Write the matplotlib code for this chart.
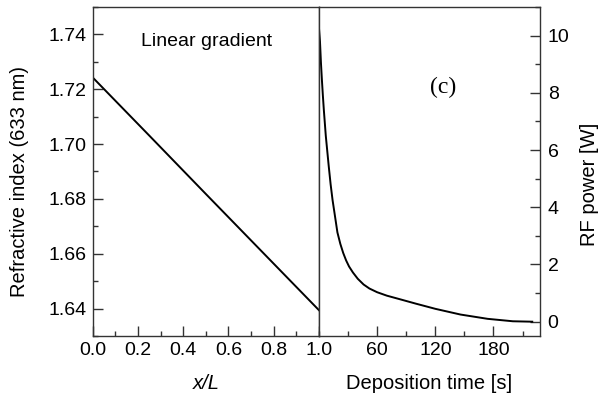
import matplotlib
matplotlib.use("Agg")
import matplotlib.pyplot as plt
from matplotlib.ticker import MultipleLocator

# Data
pos = [0.0, 0.25, 0.5, 0.75, 1.0]
index = [1.7243, 1.7031, 1.6818, 1.6606, 1.6394]

time_s = [0, 1, 2, 3, 4, 5, 6, 7, 8, 10, 12, 14, 16, 19, 22, 25, 28, 31, 35, 40,
          46, 52, 60, 70, 84, 100, 120, 146, 174, 200, 220]
power_w = [10.25, 9.8, 9.05, 8.45, 7.9, 7.4, 6.95, 6.5, 6.15, 5.45, 4.8, 4.25, 3.8,
           3.12, 2.72, 2.4, 2.14, 1.93, 1.72, 1.5, 1.3, 1.16, 1.03, 0.91, 0.78,
           0.63, 0.45, 0.25, 0.1, 0.015, 0.0]

left_xticks = [0.0, 0.2, 0.4, 0.6, 0.8, 1.0]
left_yticks = [1.64, 1.66, 1.68, 1.70, 1.72, 1.74]
right_xticks = [60, 120, 180]
right_yticks = [0, 2, 4, 6, 8, 10]

plt.rcParams['font.family'] = ['Liberation Sans', 'DejaVu Sans']
plt.rcParams['font.size'] = 14

TICK_FS = 14
LABEL_FS = 14.5

fig = plt.figure(figsize=(6.0, 3.96), dpi=100)
W, H = 600, 396
axL = fig.add_axes([92.7 / W, (H - 336) / H, (319 - 92.7) / W, (336 - 7) / H])
axR = fig.add_axes([319 / W, (H - 336) / H, (540 - 319) / W, (336 - 7) / H])

spine_col = '#333333'
for ax in (axL, axR):
    for s in ax.spines.values():
        s.set_linewidth(1.0)
        s.set_color(spine_col)

# Left panel
axL.plot(pos, index, color='black', lw=1.4)
axL.set_xlim(0, 1.0)
axL.set_ylim(1.63, 1.75)
axL.set_xticks(left_xticks)
axL.set_xticklabels([f"{v:.1f}" for v in left_xticks])
axL.set_yticks(left_yticks)
axL.set_yticklabels([f"{v:.2f}" for v in left_yticks])
axL.xaxis.set_minor_locator(MultipleLocator(0.1))
axL.yaxis.set_minor_locator(MultipleLocator(0.01))
axL.tick_params(which='both', direction='in', top=False, right=False, color=spine_col)
axL.tick_params(which='major', length=7, width=1.0)
axL.tick_params(which='minor', length=3.5, width=1.0)
axL.tick_params(axis='x', which='major', pad=4.5, labelsize=TICK_FS)
axL.tick_params(axis='y', which='major', pad=4.5, labelsize=TICK_FS)
axL.set_xlabel('x/L', style='italic', fontsize=LABEL_FS)
axL.set_ylabel('Refractive index (633 nm)', fontsize=LABEL_FS)
axL.xaxis.set_label_coords(0.5, -0.115)
axL.yaxis.set_label_coords(-0.282, 0.47)
axL.text(0.505, 0.894, 'Linear gradient', transform=axL.transAxes,
         ha='center', va='center', fontsize=14)

# Right panel
axR.plot(time_s, power_w, color='black', lw=1.4)
axR.set_xlim(0, 228)
axR.set_ylim(-0.5, 11)
axR.set_xticks(right_xticks)
axR.set_yticks(right_yticks)
axR.xaxis.set_minor_locator(MultipleLocator(30))
axR.yaxis.set_minor_locator(MultipleLocator(1))
axR.yaxis.tick_right()
axR.yaxis.set_label_position('right')
axR.tick_params(which='both', direction='in', top=False, left=False, right=True,
                color=spine_col)
axR.tick_params(which='major', length=7, width=1.0)
axR.tick_params(which='minor', length=3.5, width=1.0)
axR.tick_params(axis='x', which='major', pad=4.5, labelsize=TICK_FS)
axR.tick_params(axis='y', which='major', pad=5.5, labelsize=TICK_FS)
axR.set_xlabel('Deposition time [s]', fontsize=LABEL_FS)
axR.set_ylabel('RF power [W]', fontsize=LABEL_FS)
axR.xaxis.set_label_coords(0.5, -0.115)
axR.yaxis.set_label_coords(1.181, 0.46)
axR.text(0.561, 0.754, '(c)', transform=axR.transAxes, ha='center', va='center',
         fontsize=17, family=['Liberation Serif', 'DejaVu Serif'])

fig.savefig('out.png', dpi=100)
